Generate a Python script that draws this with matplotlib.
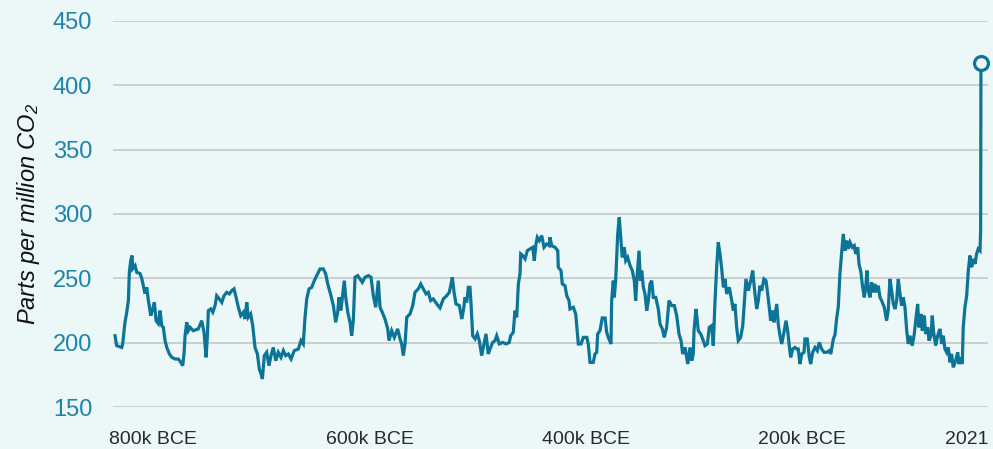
import matplotlib
matplotlib.use("Agg")
import matplotlib.pyplot as plt
from matplotlib.transforms import ScaledTranslation

plt.rcParams["mathtext.fontset"] = "custom"
plt.rcParams["mathtext.it"] = "Liberation Sans:italic"
plt.rcParams["mathtext.rm"] = "Liberation Sans:italic"

# Age in thousands of years before 2021 (kyr) and CO2 concentration (ppm)
age_kyr = [800.0, 798.5, 793.8, 792.9, 791.7, 790.8, 789.2, 787.7, 786.8, 785.5, 784.3, 783.7, 781.5, 780.0, 776.9,
           775.3, 773.9, 772.3, 770.7, 769.2, 767.0, 765.2, 763.7, 762.1, 760.0, 758.4, 756.9, 755.4, 753.8, 752.2,
           749.8, 747.6, 744.6, 741.5, 739.3, 737.5, 736.3, 735.3, 733.8, 732.3, 730.7, 727.7, 723.1, 719.9, 717.8,
           715.9, 714.7, 713.8, 711.6, 709.7, 707.6, 706.1, 703.7, 701.4, 699.3, 696.8, 694.4, 692.2, 690.1, 688.2,
           686.1, 683.9, 681.5, 679.9, 678.3, 676.9, 674.7, 672.8, 670.7, 668.5, 666.7, 665.1, 663.9, 662.1, 659.9,
           657.8, 655.9, 653.8, 651.5, 649.2, 646.7, 644.5, 642.3, 639.9, 637.4, 634.4, 630.7, 628.2, 626.1, 624.5,
           622.9, 620.8, 618.3, 615.9, 613.7, 610.6, 607.6, 605.4, 603.5, 600.5, 598.3, 596.2, 594.3, 593.1, 591.3,
           590.0, 588.2, 586.9, 585.0, 582.9, 581.4, 579.9, 578.3, 575.8, 573.7, 571.6, 569.1, 566.0, 563.5, 561.4,
           559.2, 556.8, 555.2, 553.1, 550.6, 548.1, 546.9, 544.4, 542.0, 538.9, 536.7, 535.2, 533.7, 532.1, 530.5,
           527.5, 525.0, 522.9, 519.8, 517.6, 515.2, 512.7, 510.6, 508.4, 506.0, 502.8, 499.8, 496.7, 493.6, 491.2,
           489.9, 488.4, 486.8, 485.0, 481.9, 479.7, 478.2, 476.7, 475.1, 473.6, 472.1, 471.1, 469.6, 467.4, 465.3,
           463.5, 461.3, 459.1, 457.3, 455.2, 453.6, 451.1, 449.0, 447.4, 445.0, 441.8, 438.8, 435.8, 434.5, 432.1,
           430.5, 428.9, 427.4, 425.9, 425.2, 423.4, 421.2, 419.1, 416.6, 414.1, 412.7, 411.1, 409.9, 408.0, 405.8,
           403.7, 401.2, 398.8, 398.2, 396.6, 393.5, 391.0, 390.5, 388.0, 386.8, 384.3, 382.7, 380.6, 379.7, 376.6,
           374.4, 373.5, 372.0, 369.5, 367.4, 364.2, 362.8, 361.2, 358.2, 356.6, 355.0, 354.1, 352.0, 349.9, 347.3,
           345.8, 344.3, 341.8, 341.2, 339.7, 338.8, 337.5, 335.6, 334.2, 332.6, 331.4, 329.5, 328.2, 326.4, 324.2,
           322.1, 320.3, 319.0, 317.8, 315.9, 314.7, 313.4, 311.9, 310.4, 308.8, 307.3, 305.8, 304.2, 302.7, 300.5,
           298.1, 296.5, 294.4, 292.6, 290.4, 288.2, 285.7, 283.3, 281.1, 279.0, 277.1, 275.6, 273.4, 270.9, 268.8,
           267.2, 265.8, 265.1, 263.3, 262.1, 261.2, 258.9, 257.1, 255.0, 252.8, 251.0, 248.8, 247.3, 245.7, 244.2,
           242.7, 241.1, 239.5, 238.0, 236.5, 234.9, 232.5, 230.3, 228.8, 227.3, 225.7, 224.2, 222.0, 220.1, 218.9,
           217.1, 214.9, 212.7, 210.9, 208.8, 207.2, 205.7, 204.2, 202.6, 200.5, 198.6, 197.4, 195.6, 194.3, 192.4,
           191.2, 188.7, 187.3, 185.7, 184.1, 182.0, 180.1, 178.6, 177.1, 175.8, 173.9, 171.8, 170.3, 168.8, 167.2,
           165.6, 163.5, 162.6, 160.5, 158.6, 157.3, 155.5, 153.3, 151.2, 149.4, 147.2, 145.0, 142.5, 140.1, 138.8,
           137.9, 136.4, 134.9, 133.3, 131.8, 130.3, 128.7, 127.2, 125.6, 124.1, 122.6, 121.0, 118.9, 117.1, 115.8,
           113.9, 112.7, 110.9, 109.7, 107.8, 106.5, 105.3, 104.1, 102.5, 101.0, 99.5, 97.9, 96.4, 94.9, 93.3,
           91.8, 89.3, 87.2, 85.7, 84.1, 82.5, 81.0, 79.4, 77.9, 76.4, 74.8, 73.3, 71.8, 70.2, 68.6,
           67.2, 65.6, 63.5, 61.6, 60.3, 58.5, 57.3, 55.4, 54.2, 52.4, 51.1, 49.2, 48.0, 46.2, 45.0,
           43.7, 41.8, 40.0, 37.9, 36.3, 34.8, 33.3, 31.7, 30.2, 28.6, 27.1, 25.6, 23.4, 21.5, 20.3,
           18.5, 17.3, 16.4, 14.8, 13.2, 11.7, 10.2, 8.6, 7.1, 5.5, 4.0, 2.5, 0.9, 0.3, 0.0]

co2_ppm = [205.4, 197.7, 196.3, 199.2, 209.3, 215.8, 223.6, 232.7, 254.7, 263.8, 267.7, 257.5, 259.9, 254.7, 253.7,
           249.8, 244.3, 238.1, 243.0, 232.7, 221.0, 226.4, 231.3, 217.1, 214.8, 224.9, 213.2, 211.9, 201.6, 196.3,
           191.2, 188.6, 187.3, 187.3, 184.7, 182.1, 191.4, 205.4, 215.8, 209.3, 211.9, 209.3, 210.7, 217.1, 208.0,
           188.6, 205.4, 224.9, 226.2, 223.6, 228.8, 236.5, 234.0, 231.3, 236.5, 239.1, 237.9, 240.4, 241.8, 235.2,
           227.5, 221.0, 223.6, 218.4, 231.3, 219.7, 222.3, 213.2, 196.3, 191.2, 179.5, 175.7, 171.8, 189.9, 192.5,
           182.1, 189.9, 196.3, 186.0, 192.5, 188.6, 193.8, 189.9, 191.2, 187.3, 193.8, 195.1, 201.6, 199.0, 219.7,
           234.0, 241.8, 243.0, 248.2, 252.1, 257.3, 257.3, 253.4, 245.6, 236.5, 228.8, 215.8, 223.6, 235.2, 224.9,
           235.2, 248.2, 235.2, 223.6, 215.8, 205.4, 217.1, 250.8, 252.1, 249.5, 246.9, 250.8, 252.1, 250.8, 236.5,
           227.5, 248.2, 227.5, 223.6, 218.4, 210.7, 201.6, 209.3, 204.1, 210.7, 202.9, 199.0, 189.9, 199.0, 219.7,
           222.3, 228.8, 239.1, 241.8, 245.6, 241.8, 237.9, 239.1, 232.7, 234.0, 230.1, 227.0, 234.0, 236.5, 239.1,
           244.3, 250.8, 239.1, 230.1, 228.8, 218.4, 224.9, 235.2, 231.3, 243.0, 243.0, 230.1, 205.4, 202.9, 206.8,
           201.6, 189.9, 199.0, 206.8, 191.2, 195.1, 200.2, 201.6, 205.4, 199.0, 200.2, 199.0, 200.2, 205.4, 208.0,
           224.9, 219.7, 245.6, 253.4, 269.0, 267.7, 265.1, 271.5, 272.9, 274.1, 263.8, 276.7, 281.9, 279.3, 283.2,
           274.1, 276.7, 275.4, 281.9, 275.4, 274.1, 271.5, 258.6, 256.0, 245.6, 244.3, 236.5, 232.7, 226.2, 227.5,
           222.3, 213.2, 199.0, 199.0, 204.1, 204.1, 199.0, 184.7, 184.7, 191.2, 192.5, 206.8, 209.3, 219.2, 219.2,
           208.0, 204.1, 199.0, 232.7, 248.2, 235.2, 248.2, 284.5, 297.4, 279.3, 266.3, 274.1, 263.8, 266.3, 259.9,
           256.0, 248.2, 232.7, 250.8, 271.5, 248.2, 256.0, 243.0, 237.9, 224.9, 232.7, 245.6, 248.2, 235.2, 235.2,
           226.2, 214.5, 210.7, 204.1, 211.9, 232.7, 228.8, 228.8, 221.0, 206.8, 201.6, 191.2, 196.3, 183.4, 196.3,
           186.0, 191.2, 209.3, 226.2, 217.1, 209.3, 206.8, 202.9, 197.7, 199.0, 211.9, 213.2, 197.7, 232.7, 258.6,
           278.0, 269.0, 257.3, 243.0, 249.5, 237.9, 243.0, 232.7, 224.9, 230.1, 211.9, 201.6, 204.1, 213.2, 227.5,
           249.5, 240.4, 248.2, 256.0, 237.9, 226.2, 232.7, 244.3, 240.4, 249.5, 248.2, 240.4, 227.5, 217.1, 224.9,
           215.8, 230.1, 214.5, 205.4, 199.0, 208.0, 217.1, 209.3, 197.7, 188.6, 195.1, 196.3, 195.1, 195.1, 183.4,
           191.2, 192.5, 202.9, 202.9, 188.6, 183.4, 192.5, 196.3, 193.8, 200.2, 195.1, 192.5, 192.5, 193.8, 191.2,
           195.1, 202.9, 206.0, 219.0, 228.0, 253.4, 270.2, 284.5, 271.5, 279.3, 272.9, 278.0, 274.1, 275.4, 269.0,
           274.1, 261.2, 254.7, 245.6, 235.2, 243.0, 256.0, 240.4, 235.2, 246.9, 239.1, 245.6, 239.1, 244.3, 235.2,
           232.7, 227.5, 217.1, 224.9, 249.5, 240.4, 230.1, 226.2, 232.7, 249.5, 237.9, 228.8, 235.2, 227.5, 209.3,
           199.0, 205.4, 197.7, 206.8, 217.1, 230.1, 211.9, 222.3, 209.3, 221.0, 206.8, 211.9, 201.6, 205.4, 221.0,
           208.0, 197.7, 205.4, 210.7, 199.0, 205.4, 195.1, 192.5, 196.3, 184.7, 191.2, 180.8, 186.0, 192.5, 183.4,
           188.6, 183.4, 211.9, 227.5, 236.5, 256.0, 267.7, 258.6, 265.1, 261.2, 269.0, 272.9, 271.5, 287.0, 417.0]

y_ticks = [150, 200, 250, 300, 350, 400, 450]
x_ticks = [-800, -600, -400, -200, 0]
x_labels = ["800k BCE", "600k BCE", "400k BCE", "200k BCE", "2021"]

bg = "#ECF7F8"
line_c = "#0C7497"
ytick_c = "#1F82A8"

fig = plt.figure(figsize=(9.93, 4.49), dpi=100, facecolor=bg)
ax = fig.add_axes([113/993, 42/449, 875/993, 386/449], facecolor=bg)

xs = [-a for a in age_kyr]
ax.plot(xs, co2_ppm, color=line_c, lw=2.3, solid_joinstyle="miter", zorder=3)
ax.plot([xs[-1]], [co2_ppm[-1]], marker="o", ms=10, mfc=bg, mec=line_c, mew=2.3,
        zorder=4, clip_on=False)

ax.set_xlim(-801.9, 6.5)
ax.set_ylim(150, 450)
ax.set_yticks(y_ticks)
ax.set_yticklabels([str(v) for v in y_ticks])
ax.grid(axis="y", color="#C4C4C4", lw=1.1)
ax.set_axisbelow(True)
for s in ax.spines.values():
    s.set_visible(False)
ax.tick_params(axis="y", length=0, pad=15, labelsize=17, labelcolor=ytick_c)
ax.tick_params(axis="x", length=0, pad=17, labelsize=14, labelcolor="#2A2A2A")
for lab in ax.get_yticklabels():
    lab.set_fontfamily("Liberation Sans")

ax.set_xticks(x_ticks)
ax.set_xticklabels(x_labels, fontfamily="Liberation Sans")
labs = ax.get_xticklabels()
for i, lab in enumerate(labs):
    if i < len(labs) - 1:
        lab.set_ha("left")
        lab.set_transform(lab.get_transform() + ScaledTranslation(-6/100, 0, fig.dpi_scale_trans))
    else:
        lab.set_ha("right")
        lab.set_transform(lab.get_transform() + ScaledTranslation(8/100, 0, fig.dpi_scale_trans))

ax.set_ylabel(r"Parts per million CO$_2$", fontsize=17, fontstyle="italic",
              fontfamily="Liberation Sans", color="#111111", labelpad=8)

fig.savefig("out.png", dpi=100, facecolor=bg)
